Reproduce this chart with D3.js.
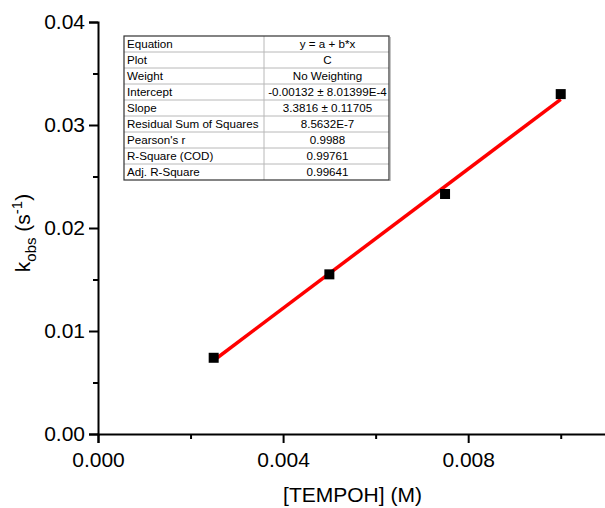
<!DOCTYPE html>
<html>
<head>
<meta charset="utf-8">
<script src="https://cdn.jsdelivr.net/npm/d3@7"></script>
<style>
  html, body { margin: 0; padding: 0; background: #fff; }
  svg { display: block; font-family: "Liberation Sans", Arial, sans-serif; }
</style>
</head>
<body>
<svg id="chart" width="605" height="508"></svg>
<script>
// Observed rate constants vs. TEMPOH concentration
const concentration = [0.0025, 0.005, 0.0075, 0.01];
const kObs = [0.0074, 0.0155, 0.0233, 0.0330];

// Linear fit parameters (y = a + b*x)
const fitIntercept = -0.00132;
const fitSlope = 3.3816;

const xTicks = [0.000, 0.004, 0.008];
const xMinorTicks = [0.002, 0.006, 0.010];
const yTicks = [0.00, 0.01, 0.02, 0.03, 0.04];
const yMinorTicks = [0.005, 0.015, 0.025, 0.035];

const tableLabels = ["Equation", "Plot", "Weight", "Intercept", "Slope",
  "Residual Sum of Squares", "Pearson's r", "R-Square (COD)", "Adj. R-Square"];
const tableValues = ["y = a + b*x", "C", "No Weighting", "-0.00132 \u00b1 8.01399E-4",
  "3.3816 \u00b1 0.11705", "8.5632E-7", "0.9988", "0.99761", "0.99641"];

const svg = d3.select("#chart");

const x = d3.scaleLinear().domain([0, 0.011]).range([98, 607]);
const y = d3.scaleLinear().domain([0, 0.04]).range([434, 22]);

// Axes
const xAxis = svg.append("g").attr("transform", `translate(0,${y(0)})`)
  .call(d3.axisBottom(x).tickValues(xTicks).tickFormat(d3.format(".3f")).tickSize(9).tickPadding(9));
const xMinor = svg.append("g").attr("transform", `translate(0,${y(0)})`)
  .call(d3.axisBottom(x).tickValues(xMinorTicks).tickFormat("").tickSize(5));
const yAxis = svg.append("g").attr("transform", `translate(${x(0)},0)`)
  .call(d3.axisLeft(y).tickValues(yTicks).tickFormat(d3.format(".2f")).tickSize(9).tickPadding(4));
const yMinor = svg.append("g").attr("transform", `translate(${x(0)},0)`)
  .call(d3.axisLeft(y).tickValues(yMinorTicks).tickFormat("").tickSize(5));

[xAxis, xMinor, yAxis, yMinor].forEach(g => {
  g.select(".domain").attr("stroke", "#000").attr("stroke-width", 2);
  g.selectAll(".tick line").attr("stroke", "#000").attr("stroke-width", 2);
  g.selectAll(".tick text").attr("fill", "#000").attr("font-size", 21)
    .attr("font-family", "'Liberation Sans', Arial, sans-serif");
});
xMinor.select(".domain").remove();
yMinor.select(".domain").remove();

// Axis titles
svg.append("text")
  .attr("x", (x.range()[0] + x.range()[1]) / 2).attr("y", 502)
  .attr("text-anchor", "middle").attr("font-size", 21).attr("fill", "#000")
  .text("[TEMPOH] (M)");

const yTitle = svg.append("text")
  .attr("transform", "translate(30,233) rotate(-90)")
  .attr("text-anchor", "middle").attr("font-size", 21).attr("fill", "#000");
yTitle.append("tspan").text("k");
yTitle.append("tspan").attr("font-size", 15).attr("dy", 6).text("obs");
yTitle.append("tspan").attr("dy", -6).text(" (s");
yTitle.append("tspan").attr("font-size", 15).attr("dy", -8).text("-1");
yTitle.append("tspan").attr("dy", 8).text(")");

// Fit line across the data range
const xExtent = d3.extent(concentration);
svg.append("line")
  .attr("x1", x(xExtent[0])).attr("y1", y(fitIntercept + fitSlope * xExtent[0]))
  .attr("x2", x(xExtent[1])).attr("y2", y(fitIntercept + fitSlope * xExtent[1]))
  .attr("stroke", "#ff0000").attr("stroke-width", 3.5);

// Data points
svg.append("g").selectAll("rect").data(concentration).join("rect")
  .attr("x", d => x(d) - 5).attr("y", (d, i) => y(kObs[i]) - 5)
  .attr("width", 10).attr("height", 10).attr("fill", "#000");

// Fit statistics table
const tLeft = 124, tTop = 36, tDiv = 264, tRight = 389, rowH = 16;
const table = svg.append("g");
table.append("rect")
  .attr("x", tLeft).attr("y", tTop)
  .attr("width", tRight - tLeft).attr("height", rowH * tableLabels.length)
  .attr("fill", "#fff");
tableLabels.forEach((lab, i) => {
  if (i > 0) {
    table.append("line").attr("x1", tLeft).attr("x2", tRight)
      .attr("y1", tTop + i * rowH).attr("y2", tTop + i * rowH)
      .attr("stroke", "#b8b8b8").attr("stroke-width", 1);
  }
  table.append("text").attr("x", tLeft + 3).attr("y", tTop + i * rowH + 12)
    .attr("font-size", 11.6).attr("fill", "#000").text(lab);
  table.append("text").attr("x", (tDiv + tRight) / 2 + 1).attr("y", tTop + i * rowH + 12)
    .attr("text-anchor", "middle").attr("font-size", 11.6).attr("fill", "#000").text(tableValues[i]);
});
table.append("line").attr("x1", tDiv).attr("x2", tDiv)
  .attr("y1", tTop).attr("y2", tTop + rowH * tableLabels.length)
  .attr("stroke", "#b8b8b8").attr("stroke-width", 1);
table.append("rect")
  .attr("x", tLeft).attr("y", tTop)
  .attr("width", tRight - tLeft).attr("height", rowH * tableLabels.length)
  .attr("fill", "none").attr("stroke", "#333").attr("stroke-width", 1.2);
table.append("line").attr("x1", tRight + 1).attr("x2", tRight + 1)
  .attr("y1", tTop + 1).attr("y2", tTop + rowH * tableLabels.length + 1)
  .attr("stroke", "#888").attr("stroke-width", 1);
</script>
</body>
</html>
